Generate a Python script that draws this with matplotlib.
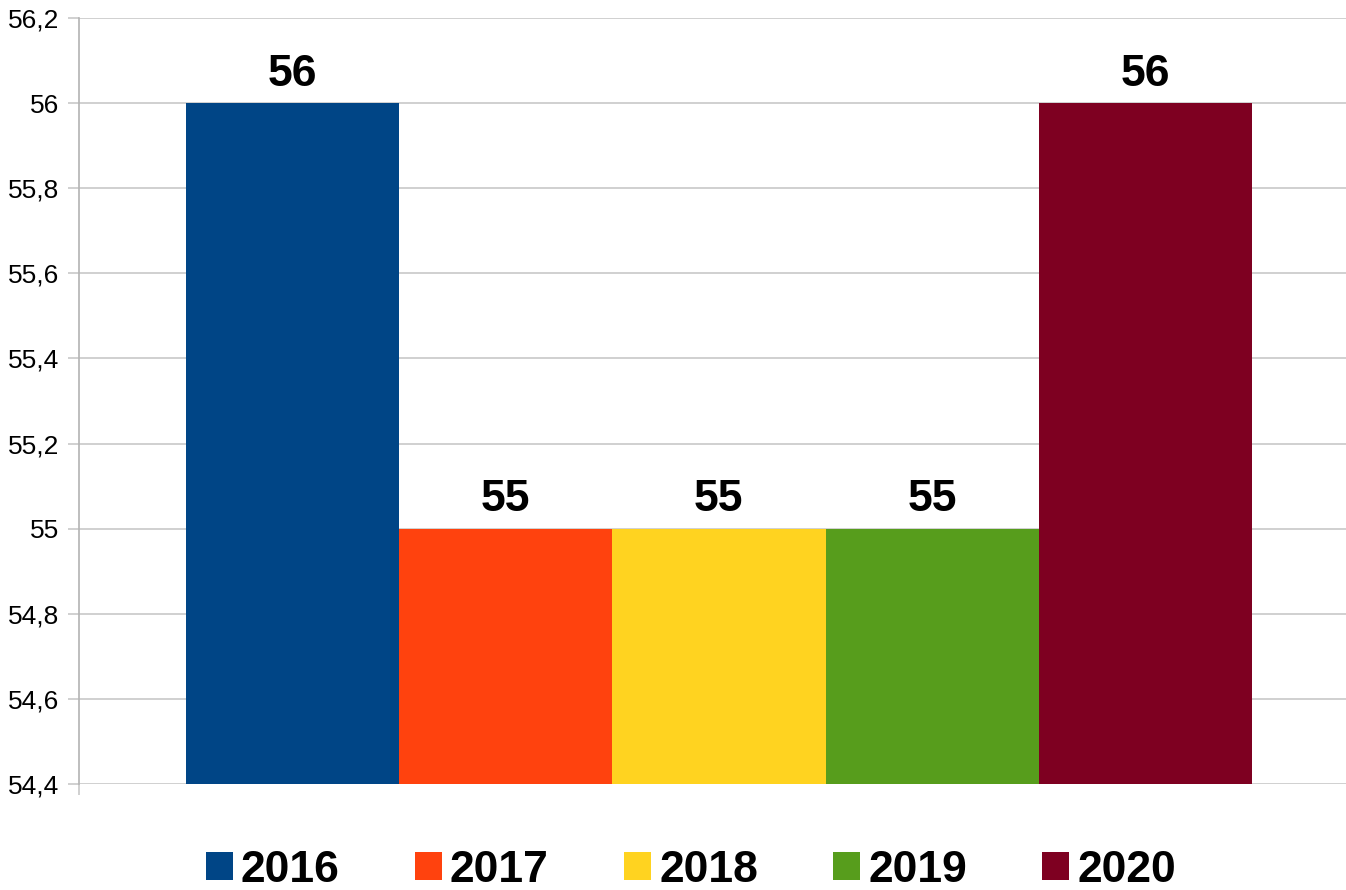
import matplotlib.pyplot as plt
from matplotlib.patches import Patch
from matplotlib.ticker import FuncFormatter, MultipleLocator

plt.rcParams['font.family'] = ['Liberation Sans', 'DejaVu Sans']

years = ['2016', '2017', '2018', '2019', '2020']
values = [56, 55, 55, 55, 56]
colors = ['#004586', '#ff420e', '#ffd320', '#579d1c', '#7e0021']

fig = plt.figure(figsize=(13.46, 8.9), dpi=100)
ax = fig.add_axes([79 / 1346, 1 - 784 / 890, 1 - 79 / 1346, (784 - 18) / 890])

xs = list(range(len(years)))
ax.bar(xs, values, width=1.0, color=colors, zorder=3)
for x, v in zip(xs, values):
    ax.annotate(str(v), xy=(x, v), xytext=(0, 6), textcoords='offset points',
                ha='center', va='bottom', fontsize=32, fontweight='bold', zorder=4)

ax.set_ylim(54.4, 56.2)
ax.set_xlim(-1.0, 4.94)
ax.yaxis.set_major_locator(MultipleLocator(0.2))
ax.yaxis.set_major_formatter(FuncFormatter(lambda v, p: ('%g' % round(v, 1)).replace('.', ',')))
ax.grid(axis='y', color='#c8c8c8', linewidth=1.2, zorder=0)
ax.set_xticks([-1.0])
ax.set_xticklabels([''])
ax.tick_params(axis='y', length=8, width=1.2, color='#c8c8c8', labelsize=19, pad=6)
ax.tick_params(axis='x', length=8, width=1.2, color='#c8c8c8')
for s in ['top', 'right', 'bottom']:
    ax.spines[s].set_visible(False)
ax.spines['left'].set_color('#b3b3b3')
ax.spines['left'].set_linewidth(1.2)

handles = [Patch(facecolor=c, edgecolor='none') for c in colors]
leg = fig.legend(handles, years, loc='center', bbox_to_anchor=(691 / 1346, 1 - 870 / 890),
                 ncol=5, frameon=False, prop={'size': 32, 'weight': 'bold'},
                 handlelength=0.6, handleheight=0.6, handletextpad=0.18,
                 columnspacing=1.7)

fig.savefig('out.png', dpi=100)
